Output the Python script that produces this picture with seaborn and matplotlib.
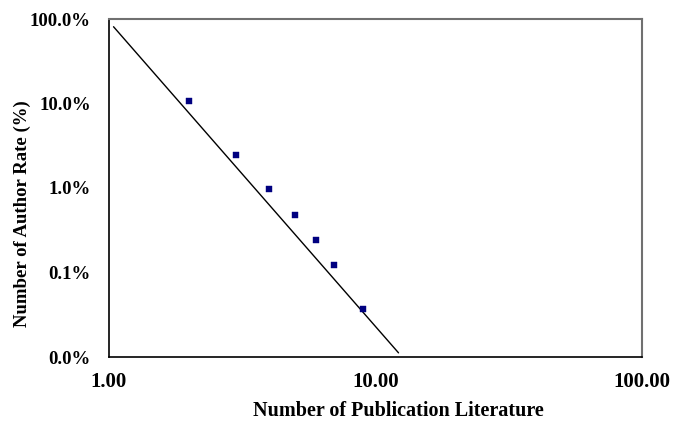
import matplotlib
matplotlib.use("Agg")
import matplotlib.pyplot as plt
import seaborn as sns
import pandas as pd
from matplotlib.ticker import FuncFormatter, FixedLocator

# observed author rate (%) by number of publications
publications = [2, 3, 4, 5, 6, 7, 9]
author_rate = [10.7, 2.46, 0.97, 0.48, 0.243, 0.122, 0.037]

# fitted power-law line end points
fit_x = [1.04, 12.2]
fit_y = [81.0, 0.0112]

x_ticks = [1, 10, 100]
y_ticks = [0.01, 0.1, 1, 10, 100]

sns.set_style("white")
plt.rcParams['font.family'] = ['Liberation Serif', 'DejaVu Serif']
plt.rcParams['font.weight'] = 'bold'
plt.rcParams['text.color'] = 'black'
plt.rcParams['xtick.color'] = 'black'
plt.rcParams['ytick.color'] = 'black'

fig = plt.figure(figsize=(6.73, 4.28), dpi=100)
ax = fig.add_axes([109 / 673, 1 - 357 / 428, 533 / 673, 338 / 428])

pts = pd.DataFrame({'x': publications, 'y': author_rate})
fit = pd.DataFrame({'x': fit_x, 'y': fit_y})

sns.lineplot(data=fit, x='x', y='y', ax=ax, color='black', linewidth=1.0)
sns.scatterplot(data=pts, x='x', y='y', ax=ax, marker='s', s=24,
                color='#000080', edgecolor='#000080', linewidth=0.3, zorder=3)

ax.set_xscale('log')
ax.set_yscale('log')
ax.set_xlim(1, 100)
ax.set_ylim(0.01, 100)
ax.xaxis.set_major_locator(FixedLocator(x_ticks))
ax.yaxis.set_major_locator(FixedLocator(y_ticks))
ax.xaxis.set_minor_locator(FixedLocator([]))
ax.yaxis.set_minor_locator(FixedLocator([]))
ax.xaxis.set_major_formatter(FuncFormatter(lambda v, p: f"{v:.2f}"))
ax.yaxis.set_major_formatter(FuncFormatter(lambda v, p: f"{v:.1f}%"))
ax.tick_params(axis='both', length=0, labelcolor='black')
ax.tick_params(axis='x', pad=11, labelsize=15)
ax.tick_params(axis='y', pad=13, labelsize=13.5)
for lab in ax.get_xticklabels() + ax.get_yticklabels():
    lab.set_fontweight('bold')

ax.set_xlabel('')
ax.set_ylabel('')
fig.text(398 / 673, 1 - 411 / 428, 'Number of Publication Literature',
         ha='center', va='center', fontsize=14.5, fontweight='bold', color='black')
fig.text(22 / 673, 1 - 214 / 428, 'Number of Author Rate (%)', rotation=90,
         ha='center', va='center', fontsize=13.5, fontweight='bold', color='black')

for side in ['left', 'bottom']:
    ax.spines[side].set_color('black')
    ax.spines[side].set_linewidth(1.2)
for side in ['top', 'right']:
    ax.spines[side].set_color('#707070')
    ax.spines[side].set_linewidth(1.5)

fig.savefig('out.png', dpi=100)
